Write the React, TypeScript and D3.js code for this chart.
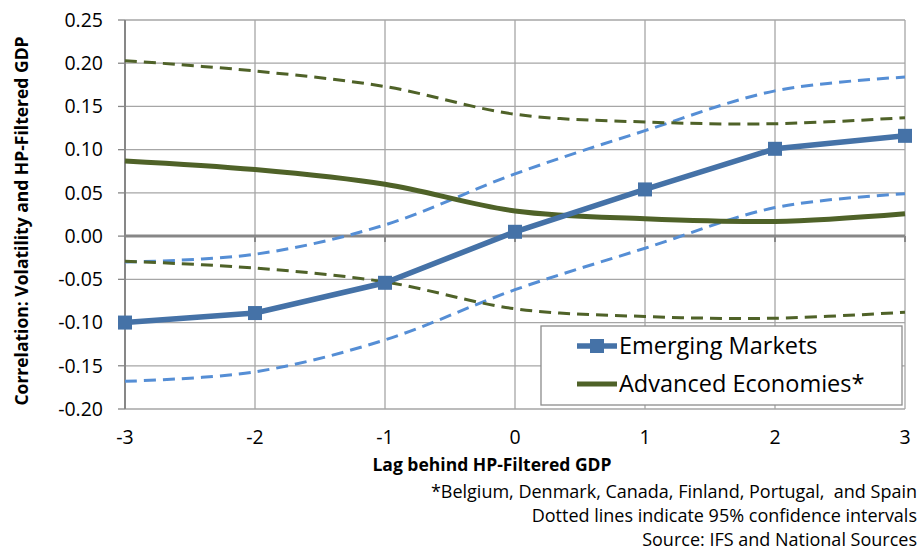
import React from "react";
import * as d3 from "d3";

const lags = [-3, -2, -1, 0, 1, 2, 3];
const emerging = [-0.100, -0.089, -0.054, 0.005, 0.054, 0.101, 0.116];
const emergingUpper = [-0.030, -0.021, 0.013, 0.072, 0.122, 0.168, 0.184];
const emergingLower = [-0.168, -0.157, -0.120, -0.062, -0.014, 0.033, 0.049];
const advanced = [0.087, 0.077, 0.060, 0.029, 0.020, 0.017, 0.026];
const advancedUpper = [0.203, 0.191, 0.173, 0.141, 0.132, 0.130, 0.137];
const advancedLower = [-0.029, -0.037, -0.053, -0.084, -0.093, -0.095, -0.088];
const yTicks = [0.25, 0.2, 0.15, 0.1, 0.05, 0, -0.05, -0.1, -0.15, -0.2];
const footnotes = [
  "*Belgium, Denmark, Canada, Finland, Portugal,  and Spain",
  "Dotted lines indicate 95% confidence intervals",
  "Source: IFS and National Sources",
];

const W = 922, H = 552;
const FONT = "'Open Sans', 'Noto Sans', sans-serif";
const BLUE = "#4572A7";
const BLUE_D = "#558ED5";
const GREEN = "#4F6228";

export default function App() {
  const x = d3.scaleLinear().domain([-3, 3]).range([125, 905]);
  const y = d3.scaleLinear().domain([-0.2, 0.25]).range([409, 20]);
  const straight = d3.line<number>().x((_, i) => x(lags[i])).y((d) => y(d));
  const smooth = d3
    .line<number>()
    .x((_, i) => x(lags[i]))
    .y((d) => y(d))
    .curve(d3.curveCatmullRom.alpha(0.5));
  const fmt = (t: number) => d3.format(".2f")(t).replace("\u2212", "-");

  return (
    <svg width={W} height={H} style={{ position: "absolute", left: 0, top: 0 }} fontFamily={FONT}>
      <rect width={W} height={H} fill="#fff" />
      {yTicks.map((t) => (
        <line key={"h" + t} x1={x(-3)} x2={x(3)} y1={y(t)} y2={y(t)} stroke="#A6A6A6" strokeWidth={1.3} />
      ))}
      {lags.map((l) => (
        <line key={"v" + l} x1={x(l)} x2={x(l)} y1={y(0.25)} y2={y(-0.2)} stroke="#A6A6A6" strokeWidth={1.3} />
      ))}
      <line x1={x(-3)} x2={x(-3)} y1={y(0.25)} y2={y(-0.2)} stroke="#878787" strokeWidth={2} />
      {yTicks.map((t) => (
        <line key={"yt" + t} x1={x(-3) - 7} x2={x(-3)} y1={y(t)} y2={y(t)} stroke="#878787" strokeWidth={1.3} />
      ))}
      <line x1={x(-3)} x2={x(3)} y1={y(0)} y2={y(0)} stroke="#878787" strokeWidth={3} />
      {lags.map((l) => (
        <line key={"xt" + l} x1={x(l)} x2={x(l)} y1={y(0)} y2={y(0) + 6} stroke="#878787" strokeWidth={2} />
      ))}
      {yTicks.map((t) => (
        <text key={"yl" + t} x={103} y={y(t)} dy="0.35em" textAnchor="end" fontSize={19.5} fill="#000">
          {fmt(t)}
        </text>
      ))}
      {lags.map((l) => (
        <text key={"xl" + l} x={x(l)} y={437} dy="0.35em" textAnchor="middle" fontSize={19.5} fill="#000">
          {l}
        </text>
      ))}
      <path d={smooth(emergingUpper) || ""} fill="none" stroke={BLUE_D} strokeWidth={3} strokeDasharray="12 7" />
      <path d={smooth(emergingLower) || ""} fill="none" stroke={BLUE_D} strokeWidth={3} strokeDasharray="12 7" />
      <path d={smooth(advancedUpper) || ""} fill="none" stroke={GREEN} strokeWidth={3} strokeDasharray="12 7" />
      <path d={smooth(advancedLower) || ""} fill="none" stroke={GREEN} strokeWidth={3} strokeDasharray="12 7" />
      <path d={smooth(advanced) || ""} fill="none" stroke={GREEN} strokeWidth={5} />
      <path d={straight(emerging) || ""} fill="none" stroke={BLUE} strokeWidth={5.5} />
      {emerging.map((v, i) => (
        <rect key={"m" + i} x={x(lags[i]) - 7} y={y(v) - 7} width={14} height={14} fill={BLUE} />
      ))}
      <rect x={541} y={326} width={361} height={79} fill="#fff" stroke="#8C8C8C" strokeWidth={1.3} />
      <line x1={577} x2={617} y1={346} y2={346} stroke={BLUE} strokeWidth={5.5} />
      <rect x={590} y={339} width={14} height={14} fill={BLUE} />
      <text x={619} y={346} dy="0.35em" fontSize={23.5} fill="#000">Emerging Markets</text>
      <line x1={577} x2={617} y1={384} y2={384} stroke={GREEN} strokeWidth={5} />
      <text x={619} y={384} dy="0.35em" fontSize={23.5} fill="#000">Advanced Economies*</text>
      <text x={492} y={465} dy="0.35em" textAnchor="middle" fontSize={17.5} fontWeight="bold" fill="#000">
        Lag behind HP-Filtered GDP
      </text>
      <text
        transform={`translate(22,${221}) rotate(-90)`}
        dy="0.35em"
        textAnchor="middle"
        fontSize={17.5}
        fontWeight="bold"
        fill="#000"
      >
        Correlation: Volatility and HP-Filtered GDP
      </text>
      {footnotes.map((f, i) => (
        <text
          key={"f" + i}
          x={917}
          y={492 + i * 24}
          dy="0.35em"
          textAnchor="end"
          fontSize={18}
          fill="#000"
          style={{ whiteSpace: "pre" }}
        >
          {f}
        </text>
      ))}
    </svg>
  );
}
